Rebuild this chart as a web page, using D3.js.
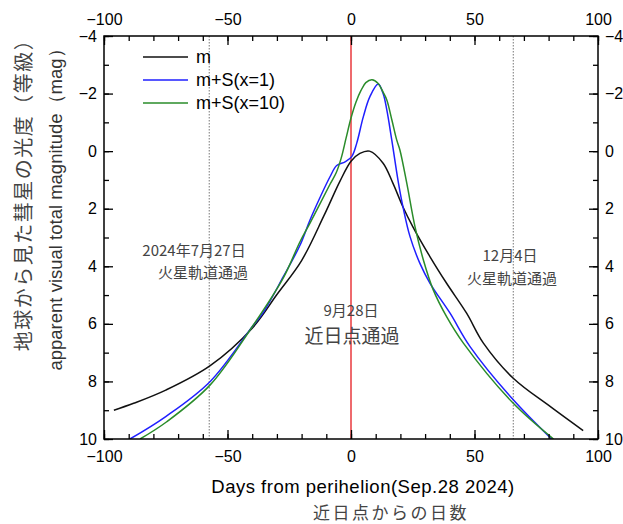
<!DOCTYPE html>
<html>
<head>
<meta charset="utf-8">
<script src="https://cdn.jsdelivr.net/npm/d3@7"></script>
<style>
  body { margin: 0; background: #fff; }
  text { font-family: "Liberation Sans", Arial, sans-serif; }
  .jp { font-family: "Noto Sans CJK JP", sans-serif; }
</style>
</head>
<body>
<svg id="chart"></svg>
<script>
// days from perihelion, magnitudes
const daysM = [-96, -88, -75, -57, -40, -30, -20, -11, -4.5, 0, 3.6, 7.5, 13, 17, 21, 25, 32, 38.7, 46.8, 53.6, 65.7, 80.6, 94];
const magM = [9.0, 8.76, 8.3, 7.45, 6.15, 4.98, 3.8, 2.25, 1.05, 0.35, 0.08, 0.0, 0.42, 1.12, 1.93, 2.62, 3.67, 4.59, 5.63, 6.67, 7.89, 8.87, 9.71];

const daysS1 = [-89.5, -75, -57, -40, -35.5, -27.4, -20.6, -16.6, -12.5, -8.5, -5.8, -2.4, 0.3, 2.3, 5.0, 7.7, 11, 13, 14.5, 16.5, 19.2, 21.2, 23.9, 27.9, 32, 40.1, 48.2, 65.7, 81.2];
const magS1 = [10.0, 9.22, 8.0, 6.1, 5.6, 4.36, 3.26, 2.39, 1.6, 0.89, 0.5, 0.37, 0.19, -0.27, -1.2, -1.9, -2.33, -2.0, -1.43, -0.39, 1.1, 2.0, 2.97, 3.9, 4.59, 5.63, 6.79, 8.64, 10.0];

const daysS10 = [-85.4, -74.6, -57, -40, -27.4, -20.6, -16.6, -8.5, -6, -4, -2, 0, 2, 4, 6, 8.5, 11, 13, 14.5, 16.5, 18.5, 19.8, 22.6, 25.9, 29.3, 33.3, 38.7, 45.5, 65.7, 82];
const magS10 = [10.0, 9.4, 8.12, 6.1, 4.4, 3.14, 2.5, 1.15, 0.75, 0.25, -0.45, -1.15, -1.7, -2.1, -2.38, -2.48, -2.35, -2.05, -1.78, -1.1, -0.39, -0.04, 1.12, 2.62, 3.78, 4.82, 5.75, 6.67, 8.76, 10.0];

const seriesNames = ['m', 'm+S(x=1)', 'm+S(x=10)'];
const seriesColors = ['#111111', '#1f1fff', '#2a8c2a'];

const xTicks = [-100, -50, 0, 50, 100];
const xMinor = d3.range(-100, 101, 10);
const yTicks = [-4, -2, 0, 2, 4, 6, 8, 10];
const yMinor = d3.range(-4, 11, 1);

const marsDays = [-57.4, 65.7];
const perihelionDay = 0;

const W = 623, H = 524;
const margin = { top: 36, right: 25, bottom: 85, left: 104 };

const svg = d3.select('#chart').attr('width', W).attr('height', H);

const x = d3.scaleLinear().domain([-100, 100]).range([margin.left, W - margin.right]);
const y = d3.scaleLinear().domain([-4, 10]).range([margin.top, H - margin.bottom]);

svg.append('defs').append('clipPath').attr('id', 'plot')
  .append('rect')
  .attr('x', x(-100)).attr('y', y(-4))
  .attr('width', x(100) - x(-100)).attr('height', y(10) - y(-4));

// vertical guide lines
svg.selectAll('.mars')
  .data(marsDays)
  .enter()
  .append('line')
  .attr('x1', d => x(d)).attr('x2', d => x(d))
  .attr('y1', y(-4)).attr('y2', y(10))
  .attr('stroke', '#777')
  .attr('stroke-width', 1)
  .attr('stroke-dasharray', '1.5,1.5');

svg.append('line')
  .attr('x1', x(perihelionDay)).attr('x2', x(perihelionDay))
  .attr('y1', y(-4)).attr('y2', y(10))
  .attr('stroke', '#e8383d')
  .attr('stroke-width', 1.5);

// curves
const series = [
  daysM.map((d, i) => [d, magM[i]]),
  daysS1.map((d, i) => [d, magS1[i]]),
  daysS10.map((d, i) => [d, magS10[i]])
];

const line = d3.line()
  .x(d => x(d[0]))
  .y(d => y(d[1]))
  .curve(d3.curveCatmullRom.alpha(0.5));

svg.append('g')
  .attr('clip-path', 'url(#plot)')
  .selectAll('path')
  .data(series)
  .enter()
  .append('path')
  .attr('d', line)
  .attr('fill', 'none')
  .attr('stroke', (d, i) => seriesColors[i])
  .attr('stroke-width', 1.5);

// axes (ticks pointing inward)
const fmt = d3.format('d');
const styleAxis = g => {
  g.select('.domain').remove();
  g.selectAll('line').attr('stroke', '#000').attr('stroke-width', 1.3);
  g.selectAll('text').attr('font-size', 16).attr('fill', '#000');
};

svg.append('g')
  .attr('transform', `translate(0,${y(10)})`)
  .call(d3.axisBottom(x).tickValues(xMinor).tickSize(-5).tickFormat(''))
  .call(styleAxis);
svg.append('g')
  .attr('transform', `translate(0,${y(10)})`)
  .call(d3.axisBottom(x).tickValues(xTicks).tickSizeInner(-9).tickPadding(12).tickFormat(fmt))
  .call(styleAxis);
svg.append('g')
  .attr('transform', `translate(0,${y(-4)})`)
  .call(d3.axisTop(x).tickValues(xMinor).tickSize(-5).tickFormat(''))
  .call(styleAxis);
svg.append('g')
  .attr('transform', `translate(0,${y(-4)})`)
  .call(d3.axisTop(x).tickValues(xTicks).tickSizeInner(-9).tickPadding(11).tickFormat(fmt))
  .call(styleAxis);

svg.append('g')
  .attr('transform', `translate(${x(-100)},0)`)
  .call(d3.axisLeft(y).tickValues(yMinor).tickSize(-5).tickFormat(''))
  .call(styleAxis);
svg.append('g')
  .attr('transform', `translate(${x(-100)},0)`)
  .call(d3.axisLeft(y).tickValues(yTicks).tickSizeInner(-9).tickPadding(7).tickFormat(fmt))
  .call(styleAxis);
svg.append('g')
  .attr('transform', `translate(${x(100)},0)`)
  .call(d3.axisRight(y).tickValues(yMinor).tickSize(-5).tickFormat(''))
  .call(styleAxis);
svg.append('g')
  .attr('transform', `translate(${x(100)},0)`)
  .call(d3.axisRight(y).tickValues(yTicks).tickSizeInner(-9).tickPadding(7).tickFormat(fmt))
  .call(styleAxis);

// frame
svg.append('rect')
  .attr('x', x(-100)).attr('y', y(-4))
  .attr('width', x(100) - x(-100)).attr('height', y(10) - y(-4))
  .attr('fill', 'none')
  .attr('stroke', '#000')
  .attr('stroke-width', 1.5);

// legend
const legend = svg.append('g')
  .selectAll('g')
  .data(seriesNames)
  .enter()
  .append('g')
  .attr('transform', (d, i) => `translate(143,${57 + i * 23})`);

legend.append('line')
  .attr('x1', 0).attr('x2', 45)
  .attr('stroke', (d, i) => seriesColors[i])
  .attr('stroke-width', 1.5);

legend.append('text')
  .attr('x', 53)
  .attr('dy', '0.35em')
  .attr('font-size', 18)
  .text(d => d);

// annotations
const note = (tx, ty, str, size) => svg.append('text')
  .attr('class', 'jp')
  .attr('x', tx).attr('y', ty)
  .attr('text-anchor', 'middle')
  .attr('font-size', size)
  .attr('fill', '#444')
  .text(str);

note(194, 256, '2024年7月27日', 15);
note(203, 278, '火星軌道通過', 15);
note(510, 261, '12月4日', 15);
note(512, 284, '火星軌道通過', 15);
note(351, 316, '9月28日', 15);
note(352, 343, '近日点通過', 19);

// axis titles
svg.append('text')
  .attr('x', 363).attr('y', 493)
  .attr('text-anchor', 'middle')
  .attr('font-size', 18.5)
  .attr('letter-spacing', 0.5)
  .attr('fill', '#000')
  .text('Days from perihelion(Sep.28 2024)');

svg.append('text')
  .attr('class', 'jp')
  .attr('x', 391).attr('y', 519)
  .attr('text-anchor', 'middle')
  .attr('font-size', 17)
  .attr('letter-spacing', 2.5)
  .attr('fill', '#444')
  .text('近日点からの日数');

svg.append('text')
  .attr('class', 'jp')
  .attr('transform', 'translate(31,190) rotate(-90)')
  .attr('text-anchor', 'middle')
  .attr('font-size', 20)
  .attr('letter-spacing', 1.5)
  .attr('fill', '#444')
  .text('地球から見た彗星の光度（等級）');

svg.append('text')
  .attr('transform', 'translate(62,205) rotate(-90)')
  .attr('text-anchor', 'middle')
  .attr('font-size', 18.5)
  .attr('fill', '#333')
  .text('apparent visual total magnitude（mag）');
</script>
</body>
</html>
